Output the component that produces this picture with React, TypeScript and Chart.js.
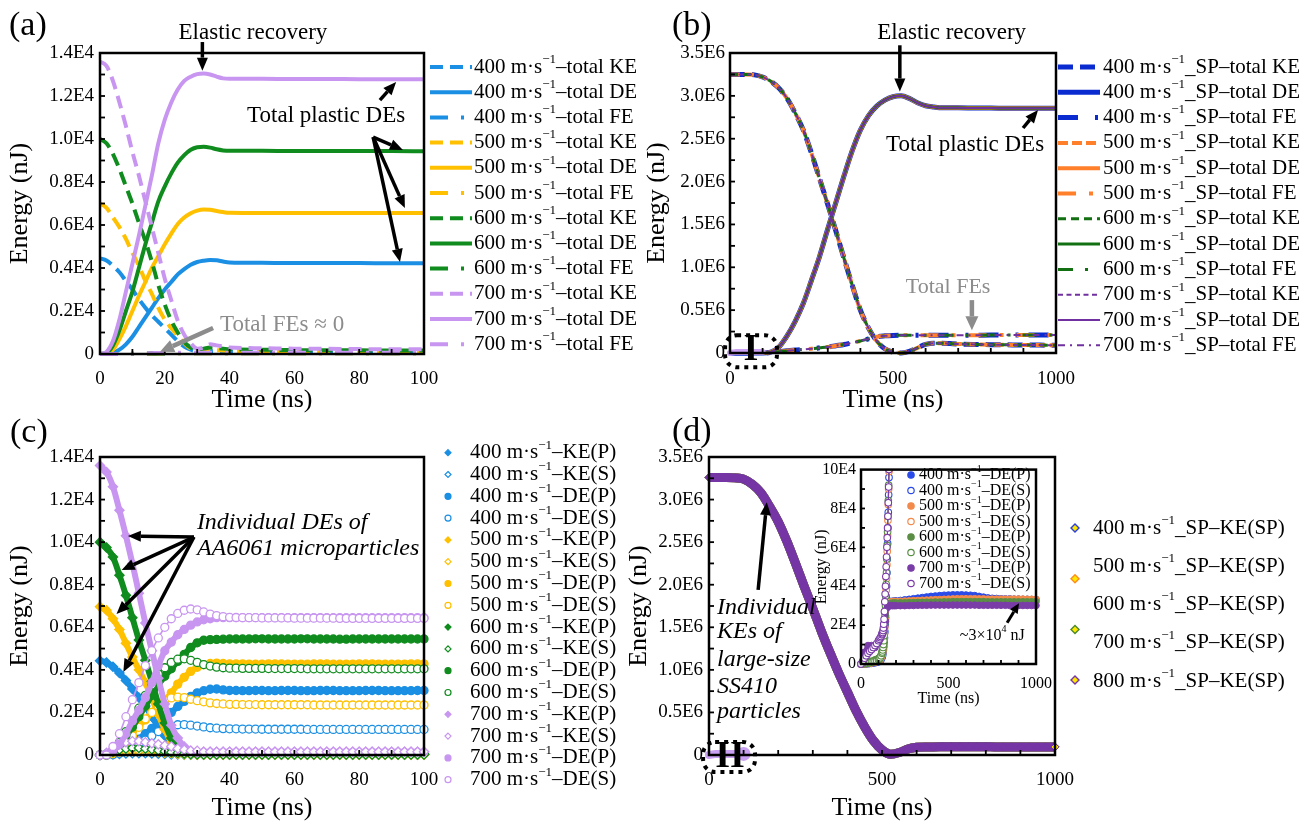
import React, { useEffect, useRef } from 'react';
import { Chart, registerables } from 'chart.js';

Chart.register(...registerables);

const SERIF = "'Liberation Serif', 'Times New Roman', Times, serif";
Chart.defaults.font.family = SERIF;
Chart.defaults.color = '#000';

// ---------------- shared categories ----------------
const VEL = [400, 500, 600, 700];
const D_LEGEND_VEL = [400, 500, 600, 700, 800];

// ---------------- panel (a): totals, energy in 1E4 nJ ----------------
const TIME_A = [0, 2, 4, 6, 8, 10, 12, 14, 16, 18, 20, 22, 24, 26, 28, 30, 32, 34, 36, 38, 40, 50, 60, 70, 80, 90, 100];
const A_KE_400 = [0.445, 0.435, 0.41, 0.38, 0.34, 0.3, 0.255, 0.215, 0.18, 0.15, 0.12, 0.09, 0.06, 0.035, 0.02, 0.012, 0.01, 0.012, 0.013, 0.012, 0.011, 0.01, 0.01, 0.009, 0.009, 0.009, 0.009];
const A_DE_400 = [0, 0, 0.005, 0.02, 0.045, 0.08, 0.125, 0.17, 0.215, 0.26, 0.3, 0.335, 0.37, 0.395, 0.415, 0.428, 0.434, 0.437, 0.436, 0.43, 0.426, 0.424, 0.423, 0.423, 0.423, 0.422, 0.422];
const A_FE_400 = [0, 0, 0, 0, 0, 0, 0, 0.001, 0.001, 0.002, 0.002, 0.002, 0.003, 0.003, 0.003, 0.003, 0.003, 0.003, 0.003, 0.003, 0.003, 0.003, 0.003, 0.003, 0.003, 0.003, 0.003];
const A_KE_500 = [0.7, 0.68, 0.635, 0.59, 0.535, 0.47, 0.41, 0.34, 0.28, 0.215, 0.16, 0.12, 0.085, 0.05, 0.025, 0.015, 0.015, 0.017, 0.018, 0.016, 0.015, 0.014, 0.013, 0.013, 0.012, 0.012, 0.012];
const A_DE_500 = [0, 0, 0.02, 0.07, 0.13, 0.2, 0.27, 0.335, 0.4, 0.455, 0.51, 0.56, 0.605, 0.635, 0.655, 0.667, 0.672, 0.671, 0.665, 0.66, 0.657, 0.656, 0.656, 0.656, 0.656, 0.656, 0.656];
const A_FE_500 = [0, 0, 0, 0, 0, 0, 0.001, 0.001, 0.002, 0.002, 0.003, 0.003, 0.004, 0.004, 0.004, 0.004, 0.004, 0.004, 0.004, 0.004, 0.004, 0.004, 0.004, 0.004, 0.004, 0.004, 0.004];
const A_KE_600 = [1.0, 0.98, 0.93, 0.86, 0.78, 0.7, 0.61, 0.525, 0.43, 0.32, 0.23, 0.155, 0.1, 0.055, 0.03, 0.02, 0.025, 0.03, 0.028, 0.025, 0.022, 0.02, 0.018, 0.017, 0.017, 0.016, 0.016];
const A_DE_600 = [0, 0.005, 0.04, 0.11, 0.2, 0.29, 0.4, 0.51, 0.61, 0.71, 0.78, 0.84, 0.89, 0.925, 0.95, 0.962, 0.964, 0.96, 0.952, 0.947, 0.945, 0.945, 0.944, 0.944, 0.944, 0.944, 0.943];
const A_FE_600 = [0, 0, 0, 0, 0, 0.001, 0.001, 0.002, 0.003, 0.003, 0.004, 0.004, 0.005, 0.005, 0.005, 0.005, 0.005, 0.005, 0.005, 0.005, 0.005, 0.005, 0.005, 0.005, 0.005, 0.005, 0.005];
const A_KE_700 = [1.36, 1.34, 1.27, 1.17, 1.06, 0.94, 0.83, 0.71, 0.59, 0.47, 0.35, 0.25, 0.155, 0.09, 0.05, 0.025, 0.03, 0.045, 0.04, 0.035, 0.03, 0.027, 0.025, 0.024, 0.023, 0.022, 0.022];
const A_DE_700 = [0, 0.01, 0.06, 0.16, 0.29, 0.42, 0.55, 0.69, 0.83, 0.98, 1.09, 1.17, 1.23, 1.27, 1.29, 1.302, 1.305, 1.3, 1.29, 1.282, 1.28, 1.28, 1.279, 1.279, 1.278, 1.278, 1.278];
const A_FE_700 = [0, 0, 0, 0, 0.001, 0.001, 0.002, 0.003, 0.004, 0.005, 0.005, 0.006, 0.006, 0.006, 0.006, 0.006, 0.006, 0.006, 0.006, 0.006, 0.006, 0.006, 0.006, 0.006, 0.006, 0.006, 0.006];

// ---------------- panel (b): SP totals, energy in 1E6 nJ ----------------
const TIME_B = [0, 25, 50, 75, 100, 125, 150, 175, 200, 225, 250, 275, 300, 325, 350, 375, 400, 425, 450, 475, 500, 525, 550, 575, 600, 625, 650, 675, 700, 750, 800, 850, 900, 950, 1000];
const B_KE = [3.25, 3.25, 3.25, 3.245, 3.22, 3.17, 3.09, 2.97, 2.8, 2.6, 2.33, 2.03, 1.73, 1.42, 1.1, 0.79, 0.5, 0.29, 0.14, 0.05, 0.01, 0.0, 0.02, 0.06, 0.1, 0.115, 0.115, 0.11, 0.105, 0.1, 0.097, 0.095, 0.093, 0.092, 0.09];
const B_DE = [0, 0, 0, 0, 0, 0.01, 0.07, 0.2, 0.37, 0.58, 0.85, 1.13, 1.45, 1.76, 2.07, 2.36, 2.6, 2.77, 2.88, 2.95, 2.99, 3.0, 2.97, 2.92, 2.885, 2.87, 2.86, 2.86, 2.86, 2.858, 2.857, 2.856, 2.855, 2.855, 2.855];
const B_FE = [0, 0, 0, 0, 0, 0.005, 0.015, 0.025, 0.035, 0.042, 0.05, 0.06, 0.07, 0.085, 0.1, 0.12, 0.14, 0.165, 0.19, 0.2, 0.205, 0.207, 0.208, 0.208, 0.208, 0.208, 0.208, 0.208, 0.208, 0.208, 0.209, 0.209, 0.209, 0.21, 0.21];

// AA6061 microparticle totals shown at the 1E6 scale (panels b, d)
const MICRO_T = [0, 20, 40, 60, 80, 100];
const MICRO_E6 = [0, 0.0128, 0.0128, 0.0128, 0.0128, 0.0128];

// ---------------- panel (c): individual energies, 1E4 nJ ----------------
const TIME_C = [0, 2, 4, 6, 8, 10, 12, 14, 16, 18, 20, 22, 24, 26, 28, 30, 32, 34, 36, 38, 40, 42, 44, 46, 48, 50, 52, 54, 56, 58, 60, 62, 64, 66, 68, 70, 72, 74, 76, 78, 80, 82, 84, 86, 88, 90, 92, 94, 96, 98, 100];
const C_KE_P_400 = [
  0.443, 0.435, 0.415, 0.385, 0.35, 0.31, 0.27, 0.23, 0.18, 0.13,
  0.09, 0.05, 0.025, 0.01, 0.005, 0.003, 0.002, 0.002, 0.002, 0.002,
  0.002, 0.002, 0.002, 0.002, 0.002, 0.002, 0.002, 0.002, 0.002, 0.002,
  0.002, 0.002, 0.002, 0.002, 0.002, 0.002, 0.002, 0.002, 0.002, 0.002,
  0.002, 0.002, 0.002, 0.002, 0.002, 0.002, 0.002, 0.002, 0.002, 0.002,
  0.002];
const C_KE_S_400 = [
  0, 0.001, 0.003, 0.005, 0.007, 0.008, 0.008, 0.008, 0.007, 0.006,
  0.005, 0.003, 0.002, 0.001, 0.001, 0.001, 0.001, 0.001, 0.001, 0.001,
  0.001, 0.001, 0.001, 0.001, 0.001, 0.001, 0.001, 0.001, 0.001, 0.001,
  0.001, 0.001, 0.001, 0.001, 0.001, 0.001, 0.001, 0.001, 0.001, 0.001,
  0.001, 0.001, 0.001, 0.001, 0.001, 0.001, 0.001, 0.001, 0.001, 0.001,
  0.001];
const C_DE_P_400 = [
  0, 0, 0.003, 0.012, 0.025, 0.045, 0.075, 0.1, 0.125, 0.15,
  0.175, 0.2, 0.228, 0.252, 0.275, 0.292, 0.302, 0.309, 0.31, 0.306,
  0.303, 0.303, 0.302, 0.302, 0.303, 0.303, 0.302, 0.302, 0.303, 0.303,
  0.303, 0.302, 0.302, 0.302, 0.303, 0.303, 0.303, 0.302, 0.302, 0.302,
  0.302, 0.303, 0.303, 0.303, 0.302, 0.302, 0.302, 0.302, 0.302, 0.303,
  0.303];
const C_DE_S_400 = [
  0, 0, 0.002, 0.008, 0.02, 0.035, 0.05, 0.07, 0.09, 0.11,
  0.125, 0.135, 0.142, 0.143, 0.14, 0.136, 0.132, 0.128, 0.126, 0.124,
  0.123, 0.123, 0.122, 0.122, 0.122, 0.121, 0.121, 0.121, 0.121, 0.121,
  0.121, 0.121, 0.12, 0.12, 0.12, 0.12, 0.12, 0.12, 0.12, 0.12,
  0.12, 0.12, 0.12, 0.12, 0.12, 0.12, 0.12, 0.12, 0.12, 0.12,
  0.12];
const C_KE_P_500 = [
  0.697, 0.68, 0.64, 0.59, 0.525, 0.46, 0.4, 0.34, 0.266, 0.19,
  0.12, 0.06, 0.03, 0.012, 0.006, 0.004, 0.003, 0.003, 0.003, 0.003,
  0.003, 0.003, 0.003, 0.003, 0.003, 0.003, 0.003, 0.003, 0.003, 0.003,
  0.003, 0.003, 0.003, 0.003, 0.003, 0.003, 0.003, 0.003, 0.003, 0.003,
  0.003, 0.003, 0.003, 0.003, 0.003, 0.003, 0.003, 0.003, 0.003, 0.003,
  0.003];
const C_KE_S_500 = [
  0, 0.003, 0.008, 0.014, 0.018, 0.02, 0.02, 0.019, 0.017, 0.014,
  0.011, 0.008, 0.005, 0.003, 0.002, 0.001, 0.001, 0.001, 0.001, 0.001,
  0.001, 0.001, 0.001, 0.001, 0.001, 0.001, 0.001, 0.001, 0.001, 0.001,
  0.001, 0.001, 0.001, 0.001, 0.001, 0.001, 0.001, 0.001, 0.001, 0.001,
  0.001, 0.001, 0.001, 0.001, 0.001, 0.001, 0.001, 0.001, 0.001, 0.001,
  0.001];
const C_DE_P_500 = [
  0, 0, 0.01, 0.04, 0.07, 0.11, 0.14, 0.165, 0.2, 0.225,
  0.255, 0.292, 0.333, 0.365, 0.393, 0.412, 0.424, 0.43, 0.432, 0.43,
  0.428, 0.428, 0.428, 0.427, 0.427, 0.427, 0.428, 0.428, 0.428, 0.427,
  0.427, 0.427, 0.427, 0.428, 0.428, 0.428, 0.427, 0.427, 0.427, 0.427,
  0.428, 0.428, 0.428, 0.427, 0.427, 0.427, 0.427, 0.427, 0.428, 0.428,
  0.428];
const C_DE_S_500 = [
  0, 0, 0.01, 0.03, 0.06, 0.09, 0.13, 0.17, 0.2, 0.23,
  0.255, 0.268, 0.272, 0.27, 0.262, 0.255, 0.25, 0.245, 0.242, 0.24,
  0.238, 0.238, 0.237, 0.237, 0.237, 0.236, 0.236, 0.236, 0.236, 0.236,
  0.236, 0.236, 0.236, 0.235, 0.235, 0.235, 0.235, 0.235, 0.235, 0.235,
  0.235, 0.235, 0.235, 0.235, 0.235, 0.235, 0.235, 0.235, 0.235, 0.235,
  0.235];
const C_KE_P_600 = [
  1.0, 0.975, 0.93, 0.845, 0.75, 0.645, 0.54, 0.445, 0.345, 0.24,
  0.15, 0.08, 0.04, 0.015, 0.008, 0.006, 0.005, 0.005, 0.005, 0.005,
  0.005, 0.005, 0.005, 0.005, 0.005, 0.005, 0.005, 0.005, 0.005, 0.005,
  0.005, 0.005, 0.005, 0.005, 0.005, 0.005, 0.005, 0.005, 0.005, 0.005,
  0.005, 0.005, 0.005, 0.005, 0.005, 0.005, 0.005, 0.005, 0.005, 0.005,
  0.005];
const C_KE_S_600 = [
  0, 0.005, 0.015, 0.025, 0.03, 0.033, 0.033, 0.03, 0.027, 0.022,
  0.018, 0.013, 0.009, 0.006, 0.004, 0.003, 0.002, 0.002, 0.002, 0.002,
  0.002, 0.002, 0.002, 0.002, 0.002, 0.002, 0.002, 0.002, 0.002, 0.002,
  0.002, 0.002, 0.002, 0.002, 0.002, 0.002, 0.002, 0.002, 0.002, 0.002,
  0.002, 0.002, 0.002, 0.002, 0.002, 0.002, 0.002, 0.002, 0.002, 0.002,
  0.002];
const C_DE_P_600 = [
  0, 0.005, 0.02, 0.05, 0.09, 0.13, 0.18, 0.23, 0.28, 0.33,
  0.37, 0.405, 0.44, 0.473, 0.505, 0.527, 0.539, 0.542, 0.543, 0.544,
  0.545, 0.545, 0.545, 0.545, 0.546, 0.546, 0.545, 0.545, 0.545, 0.545,
  0.545, 0.546, 0.546, 0.545, 0.545, 0.545, 0.545, 0.544, 0.544, 0.545,
  0.545, 0.545, 0.545, 0.545, 0.545, 0.545, 0.545, 0.545, 0.545, 0.545,
  0.545];
const C_DE_S_600 = [
  0, 0, 0.02, 0.06, 0.11, 0.16, 0.22, 0.28, 0.33, 0.38,
  0.41, 0.435, 0.45, 0.452, 0.445, 0.435, 0.425, 0.418, 0.413, 0.41,
  0.408, 0.408, 0.407, 0.407, 0.407, 0.407, 0.406, 0.406, 0.406, 0.406,
  0.406, 0.406, 0.405, 0.405, 0.405, 0.405, 0.405, 0.405, 0.405, 0.405,
  0.405, 0.405, 0.405, 0.405, 0.405, 0.405, 0.405, 0.405, 0.405, 0.405,
  0.405];
const C_KE_P_700 = [
  1.36, 1.33, 1.26, 1.15, 1.03, 0.9, 0.76, 0.62, 0.49, 0.36,
  0.24, 0.14, 0.08, 0.04, 0.02, 0.012, 0.015, 0.015, 0.015, 0.015,
  0.015, 0.015, 0.015, 0.015, 0.015, 0.015, 0.015, 0.015, 0.015, 0.015,
  0.015, 0.015, 0.015, 0.015, 0.015, 0.015, 0.015, 0.015, 0.015, 0.015,
  0.015, 0.015, 0.015, 0.015, 0.015, 0.015, 0.015, 0.015, 0.015, 0.015,
  0.015];
const C_KE_S_700 = [
  0, 0.01, 0.03, 0.05, 0.06, 0.065, 0.065, 0.06, 0.055, 0.05,
  0.045, 0.04, 0.03, 0.025, 0.02, 0.02, 0.015, 0.015, 0.015, 0.015,
  0.015, 0.015, 0.015, 0.015, 0.015, 0.015, 0.015, 0.015, 0.015, 0.015,
  0.015, 0.015, 0.015, 0.015, 0.015, 0.015, 0.015, 0.015, 0.015, 0.015,
  0.015, 0.015, 0.015, 0.015, 0.015, 0.015, 0.015, 0.015, 0.015, 0.015,
  0.015];
const C_DE_P_700 = [
  0, 0.005, 0.02, 0.05, 0.1, 0.16, 0.21, 0.27, 0.34, 0.42,
  0.49, 0.53, 0.565, 0.59, 0.61, 0.625, 0.635, 0.64, 0.645, 0.645,
  0.645, 0.645, 0.645, 0.645, 0.645, 0.645, 0.645, 0.645, 0.645, 0.645,
  0.645, 0.645, 0.645, 0.645, 0.645, 0.645, 0.645, 0.645, 0.645, 0.645,
  0.645, 0.645, 0.645, 0.645, 0.645, 0.645, 0.645, 0.645, 0.645, 0.645,
  0.645];
const C_DE_S_700 = [
  0, 0, 0.04, 0.1, 0.18, 0.26, 0.34, 0.42, 0.49, 0.55,
  0.6, 0.64, 0.665, 0.68, 0.686, 0.682, 0.672, 0.662, 0.655, 0.65,
  0.647, 0.646, 0.645, 0.645, 0.645, 0.644, 0.644, 0.644, 0.644, 0.644,
  0.643, 0.643, 0.643, 0.643, 0.643, 0.643, 0.643, 0.642, 0.642, 0.642,
  0.642, 0.642, 0.642, 0.642, 0.642, 0.642, 0.642, 0.642, 0.642, 0.642,
  0.642];

// ---------------- panel (d): KE of SP, 1E6 nJ ----------------
const TIME_D = [0, 25, 50, 75, 100, 125, 150, 175, 200, 225, 250, 275, 300, 325, 350, 375, 400, 425, 450, 475, 500, 525, 550, 575, 600, 625, 650, 675, 700, 725, 750, 775, 800, 825, 850, 875, 900, 925, 950, 975, 1000];
const D_KE = [3.26, 3.26, 3.26, 3.255, 3.24, 3.18, 3.08, 2.92, 2.74, 2.51, 2.25, 1.98, 1.72, 1.45, 1.2, 0.96, 0.74, 0.52, 0.33, 0.17, 0.06, 0.01, 0.03, 0.07, 0.09, 0.095, 0.095, 0.096, 0.097, 0.097, 0.097, 0.096, 0.096, 0.095, 0.095, 0.095, 0.095, 0.095, 0.095, 0.095, 0.095];

// ---------------- inset of (d): DE, 1E4 nJ ----------------
const TIME_IN = [0, 20, 40, 60, 80, 100, 110, 120, 130, 140, 150, 160, 170, 180, 190, 200, 225, 250, 275, 300, 325, 350, 375, 400, 425, 450, 475, 500, 525, 550, 575, 600, 625, 650, 675, 700, 725, 750, 775, 800, 825, 850, 875, 900, 925, 950, 975, 1000];
const IN_DEP_400 = [0, 0.02, 0.03, 0.05, 0.08, 0.12, 0.2, 0.45, 1.1, 2.3, 3.1, 3.2, 3.22, 3.23, 3.24, 3.25, 3.27, 3.3, 3.33, 3.36, 3.39, 3.42, 3.45, 3.48, 3.5, 3.52, 3.54, 3.55, 3.56, 3.56, 3.56, 3.55, 3.54, 3.52, 3.48, 3.44, 3.4, 3.38, 3.37, 3.36, 3.35, 3.35, 3.34, 3.34, 3.33, 3.33, 3.32, 3.32];
const IN_DEP_500 = [0, 0.03, 0.06, 0.1, 0.15, 0.22, 0.3, 0.55, 1.2, 2.4, 3.1, 3.18, 3.2, 3.21, 3.22, 3.22, 3.23, 3.24, 3.25, 3.26, 3.27, 3.28, 3.29, 3.3, 3.31, 3.32, 3.33, 3.34, 3.35, 3.36, 3.36, 3.36, 3.36, 3.36, 3.35, 3.35, 3.34, 3.34, 3.34, 3.34, 3.34, 3.34, 3.34, 3.34, 3.34, 3.33, 3.33, 3.33];
const IN_DEP_600 = [0, 0.05, 0.1, 0.15, 0.22, 0.3, 0.4, 0.65, 1.3, 2.5, 3.05, 3.1, 3.12, 3.13, 3.14, 3.14, 3.15, 3.15, 3.16, 3.16, 3.17, 3.17, 3.18, 3.18, 3.19, 3.19, 3.2, 3.2, 3.21, 3.21, 3.21, 3.21, 3.21, 3.21, 3.21, 3.21, 3.2, 3.2, 3.2, 3.2, 3.2, 3.2, 3.2, 3.2, 3.2, 3.2, 3.2, 3.2];
const IN_DEP_700 = [0, 0.6, 0.95, 0.95, 0.85, 1.1, 1.3, 1.6, 1.9, 2.2, 2.9, 3.0, 3.0, 3.0, 3.0, 3.0, 3.0, 3.0, 3.01, 3.01, 3.02, 3.02, 3.02, 3.03, 3.03, 3.03, 3.03, 3.03, 3.03, 3.03, 3.03, 3.03, 3.03, 3.03, 3.02, 3.02, 3.02, 3.02, 3.02, 3.02, 3.02, 3.01, 3.01, 3.01, 3.01, 3.01, 3.01, 3.01];
const TIME_IN_S = [0, 10, 20, 30, 40, 50, 60, 70, 80, 90, 100, 105, 110, 115, 120, 122, 124, 126, 128, 130, 132, 134, 136, 138, 140, 142, 144, 146, 148, 150, 152, 154, 156, 158, 160, 162, 164, 166];
const IN_DES_400 = [0, 0.002, 0.005, 0.01, 0.015, 0.025, 0.035, 0.05, 0.07, 0.09, 0.12, 0.15, 0.19, 0.25, 0.35, 0.41, 0.49, 0.6, 0.73, 0.9, 1.1, 1.35, 1.65, 2.0, 2.4, 2.9, 3.45, 4.0, 4.7, 5.4, 6.2, 7.0, 7.8, 8.7, 9.6, 10.5, 11.4, 12.3];
const IN_DES_500 = [0, 0.005, 0.01, 0.02, 0.03, 0.045, 0.06, 0.08, 0.1, 0.13, 0.17, 0.2, 0.25, 0.33, 0.45, 0.52, 0.6, 0.72, 0.87, 1.05, 1.28, 1.55, 1.9, 2.3, 2.75, 3.25, 3.8, 4.4, 5.1, 5.8, 6.6, 7.4, 8.2, 9.0, 9.9, 10.8, 11.7, 12.6];
const IN_DES_600 = [0, 0.01, 0.02, 0.03, 0.05, 0.07, 0.09, 0.11, 0.14, 0.17, 0.22, 0.26, 0.32, 0.42, 0.55, 0.62, 0.72, 0.85, 1.0, 1.2, 1.45, 1.75, 2.1, 2.5, 3.0, 3.5, 4.1, 4.7, 5.4, 6.1, 6.8, 7.6, 8.4, 9.2, 10.1, 11, 12, 13];
const IN_DES_700 = [0, 0.15, 0.3, 0.42, 0.55, 0.65, 0.75, 0.85, 0.95, 1.05, 1.2, 1.27, 1.35, 1.42, 1.5, 1.55, 1.62, 1.72, 1.85, 2.05, 2.3, 2.7, 3.2, 3.6, 4.0, 4.5, 5.0, 5.5, 6.0, 6.5, 7.0, 7.6, 8.3, 9.1, 10.0, 11, 12, 13];

// ---------------- styles ----------------
const A_COLORS = ['#1A8FE3', '#FFC000', '#108C1E', '#C896F0'];
const B_STYLES = [
  { c: '#0A2BD0', w: 5, ke: [15, 7], fe: [20, 17, 3, 10] },
  { c: '#FF7F2A', w: 4, ke: [10, 4], fe: [18, 13, 4, 13] },
  { c: '#127012', w: 3, ke: [8, 5], fe: [15, 12, 3, 12] },
  { c: '#7030A0', w: 2, ke: [5, 3.5], fe: [7, 5, 2, 5] },
];
const D_COLORS = ['#2C3FD8', '#FF8C1A', '#4A8A2A', '#7535A5'];
const IN_COLORS = ['#2B4BE8', '#F28A4B', '#5A8E44', '#7A3DA8'];
const LAV = '#C9A0F2';

const pts = (xs: number[], ys: number[]) => ys.map((y, i) => ({ x: xs[i], y }));

// ---------------- drawing helpers ----------------
function drawRich(ctx: any, text: string, x: number, y: number, size: number, style: string, align: string, color: string) {
  const parts: { t: string; sup: boolean }[] = [];
  const re = /\^\{([^}]*)\}/g;
  let last = 0;
  let m: any;
  while ((m = re.exec(text))) {
    if (m.index > last) parts.push({ t: text.slice(last, m.index), sup: false });
    parts.push({ t: m[1], sup: true });
    last = re.lastIndex;
  }
  if (last < text.length) parts.push({ t: text.slice(last), sup: false });
  const supSize = Math.round(size * 0.62);
  const fontOf = (p: any) => `${style ? style + ' ' : ''}${p.sup ? supSize : size}px ${SERIF}`;
  let total = 0;
  for (const p of parts) { ctx.font = fontOf(p); total += ctx.measureText(p.t).width; }
  let cx = align === 'center' ? x - total / 2 : align === 'right' ? x - total : x;
  ctx.save();
  ctx.fillStyle = color;
  ctx.textBaseline = 'middle';
  ctx.textAlign = 'left';
  for (const p of parts) {
    ctx.font = fontOf(p);
    ctx.fillText(p.t, cx, p.sup ? y - size * 0.36 : y);
    cx += ctx.measureText(p.t).width;
  }
  ctx.restore();
}

function drawArrow(ctx: any, x1: number, y1: number, x2: number, y2: number, color: string, w: number, hl: number, hw: number) {
  const a = Math.atan2(y2 - y1, x2 - x1);
  const bx = x2 - Math.cos(a) * hl;
  const by = y2 - Math.sin(a) * hl;
  ctx.save();
  ctx.strokeStyle = color; ctx.fillStyle = color; ctx.lineWidth = w; ctx.setLineDash([]);
  ctx.beginPath(); ctx.moveTo(x1, y1); ctx.lineTo(bx, by); ctx.stroke();
  ctx.beginPath();
  ctx.moveTo(x2, y2);
  ctx.lineTo(bx + Math.sin(a) * hw / 2, by - Math.cos(a) * hw / 2);
  ctx.lineTo(bx - Math.sin(a) * hw / 2, by + Math.cos(a) * hw / 2);
  ctx.closePath(); ctx.fill();
  ctx.restore();
}

function drawMarker(ctx: any, style: string, x: number, y: number, r: number, fill: string, stroke: string, lw: number) {
  ctx.save();
  ctx.beginPath();
  if (style === 'rectRot') {
    ctx.moveTo(x, y - r); ctx.lineTo(x + r, y); ctx.lineTo(x, y + r); ctx.lineTo(x - r, y); ctx.closePath();
  } else {
    ctx.arc(x, y, r, 0, Math.PI * 2);
  }
  ctx.fillStyle = fill; ctx.fill();
  ctx.lineWidth = lw; ctx.strokeStyle = stroke; ctx.stroke();
  ctx.restore();
}

function makeDeco(o: any) {
  return {
    id: 'deco',
    beforeDraw(chart: any) {
      if (!o.whiteArea) return;
      const { ctx, chartArea: a } = chart;
      ctx.save(); ctx.fillStyle = '#fff'; ctx.fillRect(a.left, a.top, a.right - a.left, a.bottom - a.top); ctx.restore();
    },
    afterDatasetsDraw(chart: any) {
      const { ctx, chartArea: a, scales } = chart;
      const xs = scales.x, ys = scales.y;
      ctx.save();
      ctx.strokeStyle = '#000'; ctx.lineWidth = 1.8; ctx.setLineDash([]);
      const nx = Math.round((xs.max - xs.min) / o.xMinor);
      for (let i = 1; i < nx; i++) {
        const px = xs.getPixelForValue(xs.min + i * o.xMinor);
        ctx.beginPath(); ctx.moveTo(px, a.bottom); ctx.lineTo(px, a.bottom - o.tickLen); ctx.stroke();
      }
      const ny = Math.round((ys.max - ys.min) / o.yMinor);
      for (let i = 1; i < ny; i++) {
        const py = ys.getPixelForValue(ys.min + i * o.yMinor);
        ctx.beginPath(); ctx.moveTo(a.left, py); ctx.lineTo(a.left + o.tickLen, py); ctx.stroke();
      }
      ctx.lineWidth = o.frame;
      ctx.strokeRect(a.left, a.top, a.right - a.left, a.bottom - a.top);
      ctx.restore();
    },
    afterDraw(chart: any) {
      const { ctx, scales } = chart;
      const xs = scales.x, ys = scales.y;
      const L = o.legend;
      if (L) {
        const ds = chart.data.datasets.filter((d: any) => !d.legendHide);
        if (L.mode === 'line') {
          ds.forEach((d: any, i: number) => {
            const y = L.y + i * L.dy;
            ctx.save();
            ctx.strokeStyle = d.borderColor; ctx.lineWidth = d.borderWidth; ctx.setLineDash(d.borderDash || []);
            ctx.beginPath(); ctx.moveTo(L.x, y); ctx.lineTo(L.x + L.w, y); ctx.stroke();
            ctx.restore();
            drawRich(ctx, d.label, L.textX, y, L.size, '', 'left', '#000');
          });
        } else if (L.mode === 'point') {
          ds.forEach((d: any, i: number) => {
            const y = L.y + i * L.dy;
            drawMarker(ctx, d.pointStyle, L.x, y, L.r, d.legendFill, d.pointBorderColor, 1.2);
            drawRich(ctx, d.label, L.textX, y, L.size, '', 'left', '#000');
          });
        } else if (L.mode === 'split') {
          ds.forEach((d: any, i: number) => {
            drawMarker(ctx, d.pointStyle, L.x, L.y + i * L.dyM, L.r, L.fill, d.pointBorderColor, 1.4);
          });
          L.texts.forEach((t: string, i: number) => drawRich(ctx, t, L.textX, L.y + i * L.dyT, L.size, '', 'left', '#000'));
        }
      }
      (o.notes || []).forEach((n: any) => {
        if (n.k === 'text') {
          drawRich(ctx, n.s, xs.getPixelForValue(n.t), ys.getPixelForValue(n.e), n.size, n.style || '', n.align || 'center', n.color || '#000');
        } else if (n.k === 'arrow') {
          drawArrow(ctx, xs.getPixelForValue(n.t1), ys.getPixelForValue(n.e1), xs.getPixelForValue(n.t2), ys.getPixelForValue(n.e2),
            n.color || '#000', n.w || 3.5, n.hl || 13, n.hw || 11);
        } else if (n.k === 'dotbox') {
          const x1 = xs.getPixelForValue(n.t1), x2 = xs.getPixelForValue(n.t2);
          const y1 = ys.getPixelForValue(n.e1), y2 = ys.getPixelForValue(n.e2);
          ctx.save(); ctx.strokeStyle = '#000'; ctx.lineWidth = 4; ctx.setLineDash([4, 5]);
          ctx.beginPath();
          if (ctx.roundRect) ctx.roundRect(x1, y1, x2 - x1, y2 - y1, 12); else ctx.rect(x1, y1, x2 - x1, y2 - y1);
          ctx.stroke(); ctx.restore();
        }
      });
      (o.labels || []).forEach((l: any) => drawRich(ctx, l.text, l.x, l.y, l.size, l.style || '', 'left', '#000'));
    },
  };
}

function makeScales(o: any) {
  return {
    x: {
      type: 'linear', min: 0, max: o.xMax,
      ticks: { stepSize: o.xStep, autoSkip: false, maxRotation: 0, padding: o.xTickPad, color: '#000', font: { family: SERIF, size: o.tickSize }, callback: (v: any) => String(Math.round(v)) },
      grid: { display: false, drawTicks: false }, border: { display: false },
      title: { display: true, text: 'Time (ns)', color: '#000', font: { family: SERIF, size: o.xTitleSize }, padding: { top: 0, bottom: o.xTitlePad } },
      afterFit: (s: any) => { s.height = o.xH; },
    },
    y: {
      type: 'linear', min: 0, max: o.yMax,
      ticks: { stepSize: o.yStep, autoSkip: false, padding: o.yTickPad, color: '#000', font: { family: SERIF, size: o.tickSize }, callback: o.yFmt },
      grid: { display: false, drawTicks: false }, border: { display: false },
      title: { display: true, text: 'Energy (nJ)', color: '#000', font: { family: SERIF, size: o.yTitleSize }, padding: { top: o.yTitlePad, bottom: 0 } },
      afterFit: (s: any) => { s.width = o.yW; },
    },
  };
}

const fmtE = (exp: number) => (v: any) => (Math.abs(v) < 1e-9 ? '0' : `${Number(v).toFixed(1)}E${exp}`);

const baseOptions = {
  animation: false, responsive: false, devicePixelRatio: 1, events: [],
  plugins: { legend: { display: false }, tooltip: { enabled: false }, title: { display: false } },
};

function setOrder(ds: any[]) { ds.forEach((d, i) => { if (d.order === undefined) d.order = ds.length - i; }); return ds; }

// ---------------- chart configs ----------------
function configA() {
  const KE = [A_KE_400, A_KE_500, A_KE_600, A_KE_700];
  const DE = [A_DE_400, A_DE_500, A_DE_600, A_DE_700];
  const FE = [A_FE_400, A_FE_500, A_FE_600, A_FE_700];
  const datasets: any[] = [];
  VEL.forEach((v, i) => {
    const base = { borderColor: A_COLORS[i], borderWidth: 4, pointRadius: 0, fill: false, cubicInterpolationMode: 'monotone', clip: { left: 0, right: 0, top: 0, bottom: 3 } };
    datasets.push({ ...base, label: `${v} m·s^{−1}–total KE`, data: pts(TIME_A, KE[i]), borderDash: [13, 7] });
    datasets.push({ ...base, label: `${v} m·s^{−1}–total DE`, data: pts(TIME_A, DE[i]) });
    datasets.push({ ...base, label: `${v} m·s^{−1}–total FE`, data: pts(TIME_A, FE[i]), borderDash: [18, 13, 3, 13] });
  });
  return {
    type: 'line', data: { datasets: setOrder(datasets) },
    options: {
      ...baseOptions, layout: { padding: { left: 0, top: 53, right: 221, bottom: 0 } },
      scales: makeScales({ xMax: 100, xStep: 20, yMax: 1.4, yStep: 0.2, yFmt: fmtE(4), yW: 100, xH: 66, xTickPad: 14, yTickPad: 6, xTitlePad: 4, yTitlePad: 5, tickSize: 19, xTitleSize: 26, yTitleSize: 26 }),
    },
    plugins: [makeDeco({
      frame: 2.5, xMinor: 10, yMinor: 0.1, tickLen: 5,
      legend: { mode: 'line', x: 430, w: 42, textX: 474, y: 67, dy: 25.2, size: 21 },
      notes: [
        { k: 'text', t: 47.2, e: 1.493, s: 'Elastic recovery', size: 23 },
        { k: 'arrow', t1: 31.6, e1: 1.451, t2: 31.6, e2: 1.318 },
        { k: 'text', t: 69.8, e: 1.107, s: 'Total plastic DEs', size: 23 },
        { k: 'arrow', t1: 86.4, e1: 1.181, t2: 91.4, e2: 1.265 },
        { k: 'arrow', t1: 84.3, e1: 1.009, t2: 93.5, e2: 0.949 },
        { k: 'arrow', t1: 84.3, e1: 1.009, t2: 94.1, e2: 0.679 },
        { k: 'arrow', t1: 84.3, e1: 1.009, t2: 92.6, e2: 0.428 },
        { k: 'text', t: 56.2, e: 0.135, s: 'Total FEs ≈ 0', size: 23, color: '#8C8C8C' },
        { k: 'arrow', t1: 34.9, e1: 0.121, t2: 18.5, e2: 0.01, color: '#8C8C8C', w: 4.5, hl: 14, hw: 13 },
      ],
      labels: [{ text: '(a)', x: 9, y: 26, size: 34 }],
    })],
  };
}

function configB() {
  const datasets: any[] = [];
  VEL.forEach((v, i) => {
    const st = B_STYLES[i];
    const base = { borderColor: st.c, borderWidth: st.w, pointRadius: 0, fill: false, cubicInterpolationMode: 'monotone', clip: { left: 0, right: 0, top: 0, bottom: 3 } };
    datasets.push({ ...base, label: `${v} m·s^{−1}_SP–total KE`, data: pts(TIME_B, B_KE), borderDash: st.ke });
    datasets.push({ ...base, label: `${v} m·s^{−1}_SP–total DE`, data: pts(TIME_B, B_DE) });
    datasets.push({ ...base, label: `${v} m·s^{−1}_SP–total FE`, data: pts(TIME_B, B_FE), borderDash: st.fe });
  });
  datasets.push({ label: 'AA6061', legendHide: true, order: -1, data: pts(MICRO_T, MICRO_E6), borderColor: LAV, borderWidth: 6, borderCapStyle: 'round', pointRadius: 0, clip: 10 });
  return {
    type: 'line', data: { datasets: setOrder(datasets) },
    options: {
      ...baseOptions, layout: { padding: { left: 0, top: 53, right: 255, bottom: 0 } },
      scales: makeScales({ xMax: 1000, xStep: 500, yMax: 3.5, yStep: 0.5, yFmt: fmtE(6), yW: 95, xH: 67, xTickPad: 15, yTickPad: 5, xTitlePad: 4, yTitlePad: 7, tickSize: 19, xTitleSize: 26, yTitleSize: 26 }),
    },
    plugins: [makeDeco({
      frame: 2.5, xMinor: 100, yMinor: 0.25, tickLen: 5,
      legend: { mode: 'line', x: 423, w: 42, textX: 468, y: 67, dy: 25.3, size: 21 },
      notes: [
        { k: 'text', t: 680, e: 3.735, s: 'Elastic recovery', size: 23 },
        { k: 'arrow', t1: 521, e1: 3.59, t2: 521, e2: 3.05 },
        { k: 'text', t: 721, e: 2.426, s: 'Total plastic DEs', size: 23 },
        { k: 'arrow', t1: 899, e1: 2.625, t2: 945, e2: 2.835 },
        { k: 'text', t: 669, e: 0.768, s: 'Total FEs', size: 22, color: '#8C8C8C' },
        { k: 'arrow', t1: 742, e1: 0.617, t2: 742, e2: 0.265, color: '#8C8C8C', w: 4.5, hl: 14, hw: 13 },
        { k: 'dotbox', t1: -15, e1: 0.207, t2: 144, e2: -0.167 },
        { k: 'text', t: 64, e: 0.03, s: 'I', size: 38, style: 'bold' },
      ],
      labels: [{ text: '(b)', x: 37, y: 26, size: 34 }],
    })],
  };
}

function configC() {
  const S = [
    [C_KE_P_400, C_KE_S_400, C_DE_P_400, C_DE_S_400],
    [C_KE_P_500, C_KE_S_500, C_DE_P_500, C_DE_S_500],
    [C_KE_P_600, C_KE_S_600, C_DE_P_600, C_DE_S_600],
    [C_KE_P_700, C_KE_S_700, C_DE_P_700, C_DE_S_700],
  ];
  const names = ['KE(P)', 'KE(S)', 'DE(P)', 'DE(S)'];
  const datasets: any[] = [];
  VEL.forEach((v, i) => {
    const c = A_COLORS[i];
    names.forEach((nm, j) => {
      const diamond = j < 2;
      const filled = j % 2 === 0;
      const fill = filled ? c : '#FFFFFF';
      datasets.push({
        label: `${v} m·s^{−1}–${nm}`, data: pts(TIME_C, S[i][j]),
        showLine: true, borderColor: c, borderWidth: filled ? 6 : 1.6, cubicInterpolationMode: 'monotone',
        pointStyle: diamond ? 'rectRot' : 'circle', pointRadius: diamond ? 4.6 : 4.0, pointBorderWidth: 1.3,
        pointBackgroundColor: fill, pointBorderColor: c, backgroundColor: fill, legendFill: fill, clip: 6,
      });
    });
  });
  return {
    type: 'line', data: { datasets: setOrder(datasets) },
    options: {
      ...baseOptions, layout: { padding: { left: 0, top: 52, right: 221, bottom: 0 } },
      scales: makeScales({ xMax: 100, xStep: 20, yMax: 1.4, yStep: 0.2, yFmt: fmtE(4), yW: 100, xH: 69, xTickPad: 14, yTickPad: 6, xTitlePad: 0, yTitlePad: 5, tickSize: 19, xTitleSize: 26, yTitleSize: 26 }),
    },
    plugins: [makeDeco({
      frame: 2.5, xMinor: 10, yMinor: 0.1, tickLen: 5,
      legend: { mode: 'point', x: 448, r: 3, textX: 470, y: 47.7, dy: 21.8, size: 21 },
      notes: [
        { k: 'text', t: 29.9, e: 1.09, s: 'Individual DEs of', size: 24, style: 'italic', align: 'left' },
        { k: 'text', t: 29.9, e: 0.968, s: 'AA6061 microparticles', size: 24, style: 'italic', align: 'left' },
        { k: 'arrow', t1: 29, e1: 1.024, t2: 8.6, e2: 1.029 },
        { k: 'arrow', t1: 29, e1: 1.024, t2: 6.7, e2: 0.869 },
        { k: 'arrow', t1: 29, e1: 1.024, t2: 5.1, e2: 0.662 },
        { k: 'arrow', t1: 29, e1: 1.024, t2: 7.2, e2: 0.39 },
      ],
      labels: [{ text: '(c)', x: 10, y: 28, size: 34 }],
    })],
  };
}

function configD() {
  const datasets: any[] = [];
  const last = TIME_D.length - 1;
  VEL.forEach((v, i) => {
    const c = D_COLORS[i];
    datasets.push({
      label: `${v} m·s^{−1}_SP–KE(SP)`, data: pts(TIME_D, D_KE), showLine: true, borderColor: c, borderWidth: 9,
      cubicInterpolationMode: 'monotone', pointStyle: 'rectRot', pointRadius: 4, pointBorderWidth: 1,
      pointBorderColor: c, pointBackgroundColor: TIME_D.map((_, k) => (k === last ? '#FFE800' : c)),
      clip: { left: 10, right: 8, top: 0, bottom: 10 },
    });
  });
  datasets.push({
    label: 'AA6061', legendHide: true, order: -1, data: pts(MICRO_T, MICRO_E6), borderColor: LAV, borderWidth: 8, borderCapStyle: 'round',
    pointRadius: MICRO_T.map((_, k) => (k === MICRO_T.length - 1 ? 3 : 0)), pointBackgroundColor: '#FFFFFF', pointBorderColor: LAV, clip: 12,
  });
  return {
    type: 'line', data: { datasets: setOrder(datasets) },
    options: {
      ...baseOptions, layout: { padding: { left: 0, top: 52, right: 256, bottom: 0 } },
      scales: makeScales({ xMax: 1000, xStep: 500, yMax: 3.5, yStep: 0.5, yFmt: fmtE(6), yW: 89, xH: 69, xTickPad: 14, yTickPad: 6, xTitlePad: 0, yTitlePad: 4, tickSize: 19, xTitleSize: 26, yTitleSize: 26 }),
    },
    plugins: [makeDeco({
      frame: 2.5, xMinor: 100, yMinor: 0.25, tickLen: 5,
      legend: { mode: 'split', x: 455, r: 4, fill: '#FFE800', textX: 473, y: 123, dyM: 50.7, dyT: 38.3, size: 21, texts: D_LEGEND_VEL.map((v) => `${v} m·s^{−1}_SP–KE(SP)`) },
      notes: [
        { k: 'text', t: 23, e: 1.727, s: 'Individual', size: 24, style: 'italic', align: 'left' },
        { k: 'text', t: 23, e: 1.445, s: 'KEs of', size: 24, style: 'italic', align: 'left' },
        { k: 'text', t: 23, e: 1.116, s: 'large-size', size: 24, style: 'italic', align: 'left' },
        { k: 'text', t: 23, e: 0.8, s: 'SS410', size: 24, style: 'italic', align: 'left' },
        { k: 'text', t: 23, e: 0.505, s: 'particles', size: 24, style: 'italic', align: 'left' },
        { k: 'arrow', t1: 142, e1: 1.94, t2: 167, e2: 2.97 },
        { k: 'dotbox', t1: -17, e1: 0.153, t2: 133, e2: -0.2 },
        { k: 'text', t: 61, e: -0.024, s: 'II', size: 38, style: 'bold' },
      ],
      labels: [{ text: '(d)', x: 52, y: 27, size: 34 }],
    })],
  };
}

function configInset() {
  const P = [IN_DEP_400, IN_DEP_500, IN_DEP_600, IN_DEP_700];
  const S = [IN_DES_400, IN_DES_500, IN_DES_600, IN_DES_700];
  const datasets: any[] = [];
  const clip = { left: 5, right: 5, top: 0, bottom: 5 };
  VEL.forEach((v, i) => {
    const c = IN_COLORS[i];
    datasets.push({ label: `${v} m·s^{−1}–DE(P)`, data: pts(TIME_IN, P[i]), showLine: true, borderColor: c, borderWidth: 4, cubicInterpolationMode: 'monotone', pointStyle: 'circle', pointRadius: 3.3, pointBorderWidth: 1, pointBackgroundColor: c, pointBorderColor: c, legendFill: c, clip });
    datasets.push({ label: `${v} m·s^{−1}–DE(S)`, data: pts(TIME_IN_S, S[i]), showLine: true, borderColor: c, borderWidth: 1.2, cubicInterpolationMode: 'monotone', pointStyle: 'circle', pointRadius: 3.3, pointBorderWidth: 1.1, pointBackgroundColor: '#FFFFFF', pointBorderColor: c, legendFill: '#FFFFFF', clip });
  });
  return {
    type: 'line', data: { datasets: setOrder(datasets) },
    options: {
      ...baseOptions, layout: { padding: { left: 0, top: 11, right: 25, bottom: 0 } },
      scales: makeScales({ xMax: 1000, xStep: 500, yMax: 10, yStep: 2, yFmt: (v: any) => (Math.abs(v) < 1e-9 ? '0' : `${Math.round(v)}E4`), yW: 61, xH: 46, xTickPad: 10, yTickPad: 5, xTitlePad: 2, yTitlePad: 12, tickSize: 16, xTitleSize: 16, yTitleSize: 16 }),
    },
    plugins: [makeDeco({
      whiteArea: true, frame: 2.5, xMinor: 100, yMinor: 1, tickLen: 4,
      legend: { mode: 'point', x: 111, r: 3.2, textX: 119, y: 20, dy: 15.5, size: 16 },
      notes: [
        { k: 'text', t: 750, e: 1.46, s: '~3×10^{4} nJ', size: 16 },
        { k: 'arrow', t1: 835, e1: 2.12, t2: 903, e2: 3.13, w: 3, hl: 10, hw: 9 },
      ],
    })],
  };
}

function ChartBox(props: { left: number; top: number; width: number; height: number; make: () => any }) {
  const ref = useRef<HTMLCanvasElement>(null);
  useEffect(() => {
    const chart = new Chart(ref.current as HTMLCanvasElement, props.make());
    return () => chart.destroy();
  }, []);
  const { left, top, width, height } = props;
  return <canvas ref={ref} width={width} height={height} style={{ position: 'absolute', left, top, width, height }} />;
}

export default function App() {
  return (
    <div style={{ position: 'fixed', left: 0, top: 0, width: 1311, height: 824, background: '#fff', overflow: 'hidden' }}>
      <ChartBox left={0} top={0} width={645} height={420} make={configA} />
      <ChartBox left={635} top={0} width={676} height={420} make={configB} />
      <ChartBox left={0} top={405} width={645} height={419} make={configC} />
      <ChartBox left={620} top={405} width={691} height={419} make={configD} />
      <ChartBox left={800} top={455} width={262} height={255} make={configInset} />
    </div>
  );
}
